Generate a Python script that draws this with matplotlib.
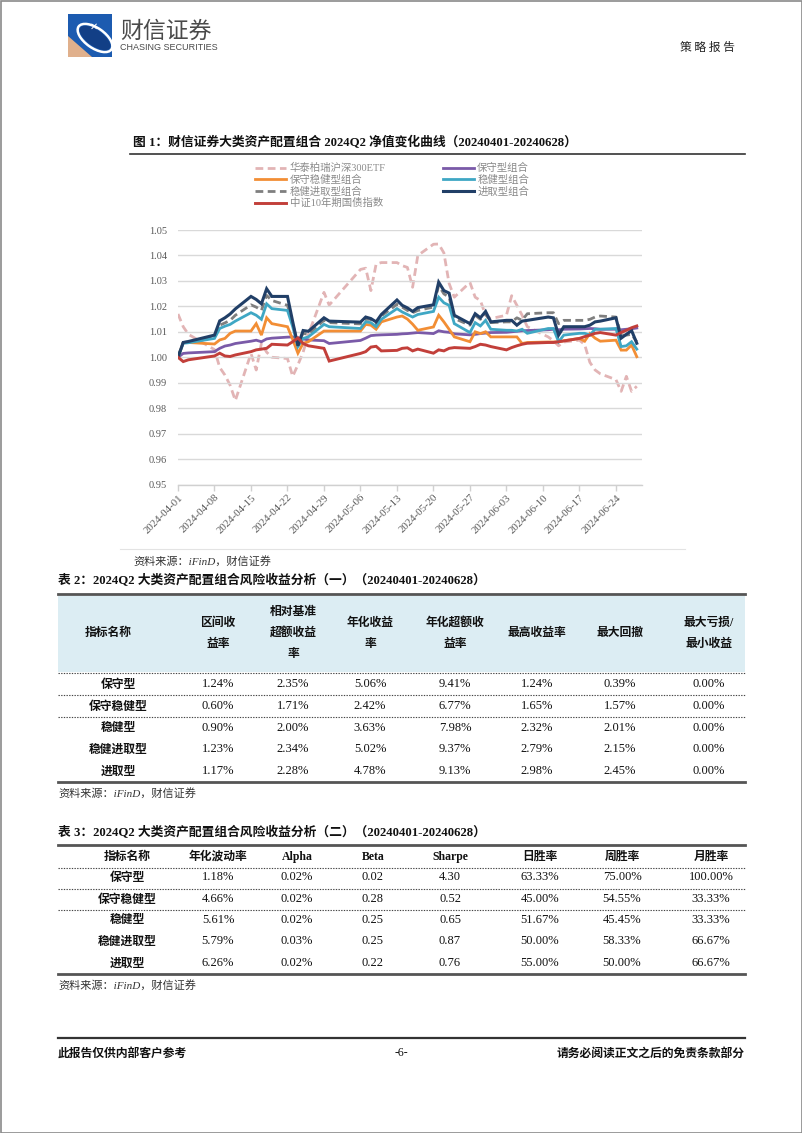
import matplotlib
matplotlib.use("Agg")
import matplotlib.pyplot as plt
import matplotlib.dates as mdates
from matplotlib.patches import Rectangle, Polygon, Ellipse
import pandas as pd

W, H = 802, 1133
SERIF_CJK = ["Liberation Serif", "Noto Sans CJK SC"]
CJK = ["Noto Sans CJK SC", "Liberation Serif"]

# ---- chart data ----
dates = [
    "2024-04-01", "2024-04-02", "2024-04-03", "2024-04-08", "2024-04-09", "2024-04-10",
    "2024-04-11", "2024-04-12", "2024-04-15", "2024-04-16", "2024-04-17", "2024-04-18",
    "2024-04-19", "2024-04-22", "2024-04-23", "2024-04-24", "2024-04-25", "2024-04-26",
    "2024-04-29", "2024-04-30", "2024-05-06", "2024-05-07", "2024-05-08", "2024-05-09",
    "2024-05-10", "2024-05-13", "2024-05-14", "2024-05-15", "2024-05-16", "2024-05-17",
    "2024-05-20", "2024-05-21", "2024-05-22", "2024-05-23", "2024-05-24", "2024-05-27",
    "2024-05-28", "2024-05-29", "2024-05-30", "2024-05-31", "2024-06-03", "2024-06-04",
    "2024-06-05", "2024-06-06", "2024-06-07", "2024-06-11", "2024-06-12", "2024-06-13",
    "2024-06-14", "2024-06-17", "2024-06-18", "2024-06-19", "2024-06-20", "2024-06-21",
    "2024-06-24", "2024-06-25", "2024-06-26", "2024-06-27", "2024-06-28",
]
csi300_etf = [
    1.017, 1.012, 1.009, 1.003, 0.996, 0.993, 0.989, 0.983, 1.0015, 0.995, 1.0055, 1.002,
    1.000, 0.9995, 0.9925, 0.997, 1.002, 1.009, 1.0255, 1.0205, 1.0345, 1.035, 1.0262, 1.0366,
    1.0372, 1.0372, 1.036, 1.0353, 1.0275, 1.040, 1.0444, 1.0445, 1.041, 1.029, 1.0236, 1.0294,
    1.0236, 1.0223, 1.0165, 1.0152, 1.0165, 1.0242, 1.0204, 1.0165, 1.012, 1.008, 1.0065, 1.0045,
    1.006, 1.0067, 1.005, 0.998, 0.995, 0.9935, 0.9912, 0.9866, 0.9925, 0.9866, 0.9886,
]
conservative = [
    1.000, 1.0015, 1.0017, 1.0022, 1.0035, 1.0044, 1.0048, 1.0054, 1.0063, 1.0067, 1.0061, 1.0072,
    1.0075, 1.0079, 1.008, 1.0076, 1.0072, 1.0068, 1.0065, 1.0054, 1.0066, 1.0075, 1.0085, 1.0087,
    1.0088, 1.009, 1.0092, 1.0093, 1.0095, 1.0097, 1.0093, 1.0104, 1.010, 1.0098, 1.0092, 1.0088,
    1.009, 1.0093, 1.0095, 1.0097, 1.0098, 1.010, 1.0102, 1.0104, 1.0105, 1.0108, 1.011, 1.0108,
    1.011, 1.0111, 1.0112, 1.0113, 1.0112, 1.011, 1.011, 1.0108, 1.011, 1.0112, 1.0115,
]
cons_steady = [
    1.000, 1.0058, 1.0058, 1.0052, 1.0068, 1.0074, 1.0094, 1.0103, 1.0103, 1.0132, 1.0087, 1.0155,
    1.0132, 1.012, 1.007, 1.0016, 1.0055, 1.0061, 1.0103, 1.0103, 1.0103, 1.0129, 1.0126, 1.011,
    1.0139, 1.0158, 1.0162, 1.015, 1.013, 1.0106, 1.0119, 1.0165, 1.0139, 1.011, 1.008, 1.0061,
    1.010, 1.0093, 1.010, 1.008, 1.008, 1.008, 1.008, 1.0054, 1.0058, 1.006, 1.006, 1.0061,
    1.0065, 1.0074, 1.0063, 1.0093, 1.0075, 1.0063, 1.0067, 1.0028, 1.0028, 1.0048, 1.0002,
]
steady_aggr = [
    1.000, 1.0058, 1.006, 1.008, 1.0126, 1.0135, 1.0145, 1.0165, 1.0206, 1.0197, 1.0184, 1.0243,
    1.0223, 1.0204, 1.013, 1.0055, 1.0094, 1.009, 1.0145, 1.0136, 1.0131, 1.0149, 1.0149, 1.0129,
    1.0162, 1.0208, 1.0197, 1.0184, 1.0175, 1.0184, 1.0197, 1.0282, 1.0249, 1.0236, 1.0152, 1.0126,
    1.0165, 1.0149, 1.0171, 1.0136, 1.0139, 1.0139, 1.0155, 1.0145, 1.0171, 1.0175, 1.0175, 1.0132,
    1.0145, 1.0145, 1.0145, 1.0149, 1.0158, 1.0162, 1.0158, 1.0087, 1.0087, 1.009, 1.0061,
]
steady = [
    1.000, 1.0055, 1.0057, 1.0074, 1.0113, 1.0122, 1.0129, 1.0142, 1.0175, 1.0165, 1.0149, 1.021,
    1.0191, 1.0184, 1.012, 1.0042, 1.0074, 1.008, 1.0129, 1.012, 1.0113, 1.0139, 1.0136, 1.012,
    1.0149, 1.0191, 1.0178, 1.0168, 1.0158, 1.0168, 1.018, 1.0236, 1.0214, 1.0204, 1.0132, 1.0097,
    1.0136, 1.0123, 1.0145, 1.011, 1.0106, 1.0106, 1.0103, 1.011, 1.0094, 1.0113, 1.0113, 1.0061,
    1.0087, 1.0094, 1.0094, 1.0087, 1.011, 1.011, 1.0113, 1.0042, 1.0045, 1.0061, 1.0032,
]
aggressive = [
    1.000, 1.0058, 1.0062, 1.0087, 1.0143, 1.0155, 1.017, 1.019, 1.0239, 1.0227, 1.021, 1.0269,
    1.0239, 1.0239, 1.014, 1.0045, 1.0105, 1.0102, 1.0155, 1.0142, 1.0138, 1.0158, 1.0152, 1.0139,
    1.0168, 1.0225, 1.0204, 1.0194, 1.018, 1.0195, 1.0206, 1.0295, 1.0262, 1.0252, 1.0165, 1.0132,
    1.0171, 1.0155, 1.018, 1.0139, 1.0145, 1.0145, 1.0126, 1.0142, 1.0145, 1.0158, 1.0155, 1.0087,
    1.012, 1.012, 1.012, 1.0126, 1.0139, 1.0142, 1.0155, 1.0075, 1.009, 1.0105, 1.0055,
]
bond_10y = [
    1.000, 0.9983, 0.999, 1.0005, 1.0016, 1.0005, 1.0003, 1.0009, 1.0022, 1.0029, 1.0032, 1.0035,
    1.0051, 1.0048, 1.0061, 1.0076, 1.0054, 1.0045, 1.0035, 0.9985, 1.0015, 1.0022, 1.004, 1.0043,
    1.0025, 1.0027, 1.0035, 1.0037, 1.0025, 1.0032, 1.0016, 1.0029, 1.0025, 1.0035, 1.0038, 1.0035,
    1.0042, 1.0051, 1.0048, 1.0042, 1.0029, 1.0038, 1.0045, 1.0051, 1.0055, 1.0058, 1.0058, 1.0061,
    1.0064, 1.0074, 1.0081, 1.0087, 1.0094, 1.0097, 1.0087, 1.0097, 1.0106, 1.0116, 1.0123,
]
tick_dates = ["2024-04-01", "2024-04-08", "2024-04-15", "2024-04-22", "2024-04-29", "2024-05-06",
              "2024-05-13", "2024-05-20", "2024-05-27", "2024-06-03", "2024-06-10", "2024-06-17",
              "2024-06-24"]
y_ticks = [0.95, 0.96, 0.97, 0.98, 0.99, 1.00, 1.01, 1.02, 1.03, 1.04, 1.05]

# ---- table data ----
t2_header = ["指标名称", "区间收\n益率", "相对基准\n超额收益\n率", "年化收益\n率", "年化超额收\n益率",
             "最高收益率", "最大回撤", "最大亏损/\n最小收益"]
t3_header = ["指标名称", "年化波动率", "Alpha", "Beta", "Sharpe", "日胜率", "周胜率", "月胜率"]
row_names = ["保守型", "保守稳健型", "稳健型", "稳健进取型", "进取型"]
t2_rows = [
    ["1.24%", "2.35%", "5.06%", "9.41%", "1.24%", "0.39%", "0.00%"],
    ["0.60%", "1.71%", "2.42%", "6.77%", "1.65%", "1.57%", "0.00%"],
    ["0.90%", "2.00%", "3.63%", "7.98%", "2.32%", "2.01%", "0.00%"],
    ["1.23%", "2.34%", "5.02%", "9.37%", "2.79%", "2.15%", "0.00%"],
    ["1.17%", "2.28%", "4.78%", "9.13%", "2.98%", "2.45%", "0.00%"],
]
t3_rows = [
    ["1.18%", "0.02%", "0.02", "4.30", "63.33%", "75.00%", "100.00%"],
    ["4.66%", "0.02%", "0.28", "0.52", "45.00%", "54.55%", "33.33%"],
    ["5.61%", "0.02%", "0.25", "0.65", "51.67%", "45.45%", "33.33%"],
    ["5.79%", "0.03%", "0.25", "0.87", "50.00%", "58.33%", "66.67%"],
    ["6.26%", "0.02%", "0.22", "0.76", "55.00%", "50.00%", "66.67%"],
]

fig = plt.figure(figsize=(W / 100, H / 100), dpi=100)
page = fig.add_axes([0, 0, 1, 1])
page.set_xlim(0, W)
page.set_ylim(H, 0)
page.axis("off")

# page frame
page.add_patch(Rectangle((0.5, 0.5), W - 1, H - 1, fill=False, ec="#8a8a8a", lw=1.2))

# ---- header ----
page.add_patch(Rectangle((68, 14), 44, 43, fc="#1c5bb0", ec="none"))
page.add_patch(Polygon([(68, 36), (68, 57), (92, 57)], closed=True, fc="#e0b08c", ec="none"))
page.add_patch(Ellipse((95, 38), 40, 20, angle=35, fill=False, ec="white", lw=1.8))
page.add_patch(Ellipse((95, 38), 36, 16, angle=35, fc="#123f86", ec="none"))
page.text(94, 27, "✕", color="white", fontsize=7, ha="center", va="center", family=["DejaVu Sans"])
page.text(120, 31, "财信证券", fontsize=16.5, color="#4a4a4a", ha="left", va="center", family=CJK)
page.text(120, 48, "CHASING SECURITIES", fontsize=6.5, color="#4a4a4a", ha="left", va="center",
          family=["Liberation Sans"])
page.text(735, 47, "策 略 报 告", fontsize=8.5, color="#222222", ha="right", va="center",
          family=CJK)

# ---- figure 1 ----
page.text(133, 143, "图 1：财信证券大类资产配置组合 2024Q2 净值变化曲线（20240401-20240628）",
          fontsize=9.2, fontweight="bold", color="#111111", ha="left", va="center", family=SERIF_CJK)
page.plot([130, 745], [154, 154], color="#333333", lw=1.2)

ax = fig.add_axes([178 / W, 1 - 484.5 / H, 464 / W, 254.5 / H])
ax.patch.set_visible(False)
x = pd.to_datetime(dates)
series = [
    (csi300_etf, "华泰柏瑞沪深300ETF", "#e2b4b5", (2.8, 1.6), 2.0, 1),
    (cons_steady, "保守稳健型组合", "#f28e35", None, 2.0, 3),
    (steady_aggr, "稳健进取型组合", "#7f7f7f", (2.8, 1.6), 2.0, 4),
    (bond_10y, "中证10年期国债指数", "#c23f3a", None, 2.1, 7),
    (conservative, "保守型组合", "#7a5aa8", None, 2.0, 2),
    (steady, "稳健型组合", "#3fa7c4", None, 2.0, 5),
    (aggressive, "进取型组合", "#213f67", None, 2.2, 6),
]
for values, label, color, dashes, lw, z in series:
    line, = ax.plot(x, values, color=color, lw=lw, label=label, zorder=z,
                    solid_joinstyle="miter")
    if dashes:
        line.set_dashes(dashes)

ax.set_xlim(pd.Timestamp("2024-04-01"), pd.Timestamp("2024-04-01") + pd.Timedelta(days=89))
ax.set_ylim(0.95, 1.05)
ax.set_yticks(y_ticks)
ax.set_yticklabels([f"{v:.2f}" for v in y_ticks])
ax.set_xticks(pd.to_datetime(tick_dates))
ax.xaxis.set_major_formatter(mdates.DateFormatter("%Y-%m-%d"))
ax.grid(axis="y", color="#d9d9d9", lw=1.0, zorder=0)
for side in ("top", "right", "left"):
    ax.spines[side].set_visible(False)
ax.spines["bottom"].set_color("#d0d0d0")
ax.spines["bottom"].set_linewidth(1.0)
ax.tick_params(axis="y", length=0, pad=8, labelsize=7.5, labelcolor="#595959")
ax.tick_params(axis="x", length=4, width=1.0, color="#d0d0d0", pad=2, labelsize=7.8,
               labelcolor="#595959")
for lab in ax.get_yticklabels() + ax.get_xticklabels():
    lab.set_family("Liberation Serif")
for lab in ax.get_xticklabels():
    lab.set_rotation(45)
    lab.set_ha("right")
    lab.set_rotation_mode("anchor")

leg = ax.legend(ncol=2, loc="upper left", bbox_to_anchor=(250 / W, 1 - 158 / H),
                bbox_transform=fig.transFigure, frameon=False, handlelength=3.0,
                handletextpad=0.3, columnspacing=5.5, labelspacing=0.14, borderpad=0,
                prop={"family": SERIF_CJK, "size": 7.5})
for t in leg.get_texts():
    t.set_color("#8a8a8a")

page.plot([120, 685], [549, 549], color="#e3e3e3", lw=0.8)
page.text(133, 561, "资料来源：iFinD，财信证券", fontsize=8, style="italic", color="#333333",
          ha="left", va="center", family=SERIF_CJK)


def draw_table(title, title_y, top_y, header, header_y, header_band, dotted, bottom_y,
               header_label_x, label_x, col_x, rows, row_ys, source_y):
    page.text(58, title_y, title, fontsize=9.2, fontweight="bold", color="#111111",
              ha="left", va="center", family=SERIF_CJK)
    if header_band:
        page.add_patch(Rectangle((58, header_band[0]), 687, header_band[1] - header_band[0],
                                 fc="#dcedf3", ec="none"))
    page.plot([58, 745], [top_y, top_y], color="#555555", lw=2.0)
    for i, h in enumerate(header):
        page.text(([header_label_x] + col_x)[i], header_y, h, fontsize=8.5,
                  fontweight="bold", color="#111111",
                  ha="center", va="center", linespacing=2.0, family=SERIF_CJK)
    for yy in dotted:
        page.plot([58, 745], [yy, yy], color="#444444", lw=0.8, ls=(0, (1.2, 1.2)))
    page.plot([58, 745], [bottom_y, bottom_y], color="#555555", lw=2.0)
    for name, vals, yy in zip(row_names, rows, row_ys):
        page.text(label_x, yy, name, fontsize=8.5, fontweight="bold", color="#111111",
                  ha="center", va="center", family=CJK)
        for cx, v in zip(col_x, vals):
            page.text(cx, yy, v, fontsize=9, color="#111111", ha="center", va="center",
                      family=["Liberation Serif"])
    page.text(58, source_y, "资料来源：iFinD，财信证券", fontsize=8, style="italic",
              color="#333333", ha="left", va="center", family=SERIF_CJK)


draw_table("表 2：2024Q2 大类资产配置组合风险收益分析（一）（20240401-20240628）",
           581, 594, t2_header, 633, (596, 672), [673, 695, 717], 782,
           108, 118, [218, 293, 370, 455, 537, 620, 709], t2_rows,
           [684, 706, 728, 749, 771], 793)
draw_table("表 3：2024Q2 大类资产配置组合风险收益分析（二）（20240401-20240628）",
           833, 845, t3_header, 857, None, [868, 889, 910], 974,
           127, 127, [218, 297, 373, 450, 540, 622, 711], t3_rows,
           [877, 899, 920, 941, 963], 985)

# ---- footer ----
page.plot([58, 745], [1038, 1038], color="#333333", lw=1.6)
page.text(58, 1053, "此报告仅供内部客户参考", fontsize=8.5, fontweight="bold", color="#111111",
          ha="left", va="center", family=CJK)
page.text(401, 1053, "-6-", fontsize=8.5, color="#111111", ha="center", va="center",
          family=["Liberation Serif"])
page.text(745, 1053, "请务必阅读正文之后的免责条款部分", fontsize=8.5, fontweight="bold",
          color="#111111", ha="right", va="center", family=CJK)

fig.savefig("out.png", dpi=100)
